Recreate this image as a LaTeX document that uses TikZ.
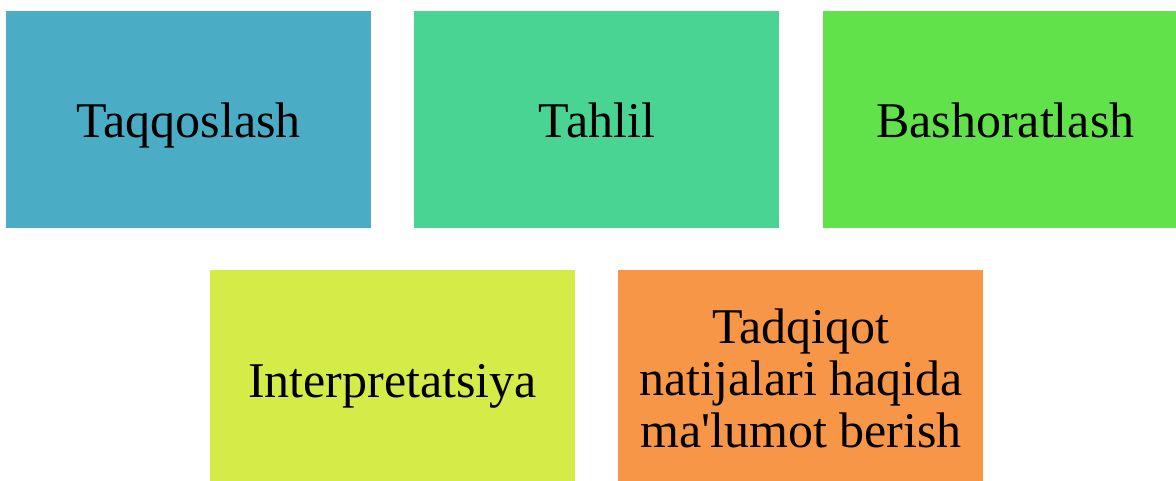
\documentclass[tikz,border=0pt]{standalone}
\usepackage{fontspec}
\setmainfont{Liberation Serif}
\usetikzlibrary{positioning}
\definecolor{caqua}{HTML}{4BACC6}
\definecolor{cmint}{HTML}{4AD494}
\definecolor{clime}{HTML}{62E24A}
\definecolor{cyell}{HTML}{D5EB48}
\definecolor{corng}{HTML}{F79646}
\begin{document}
\begin{tikzpicture}[x=1pt,y=1pt]
        \tikzset{block/.style= {rectangle, align=center, inner sep=0pt, text=black,
            font=\fontsize{50}{52}\selectfont, minimum width=365pt, minimum height=217pt},
        oneline/.style={block, text height=37pt, text depth=0pt},
        }
        \clip (0,0) rectangle (1176,-481);
        \node [oneline, fill=caqua] at (188.5,-119.5) (taq) {Taqqoslash};
        \node [oneline, fill=cmint, right =43pt of taq] (tah) {Tahlil};
        \node [oneline, fill=clime, right =43pt of tah] (bash) {Bashoratlash};
        \node [oneline, fill=cyell] at (392.5,-378.5) (intp) {Interpretatsiya};
        \node [block, fill=corng, right =43pt of intp] (tadq) {Tadqiqot\\natijalari haqida\\ma\textquotesingle lumot berish};
    \end{tikzpicture}
\end{document}
